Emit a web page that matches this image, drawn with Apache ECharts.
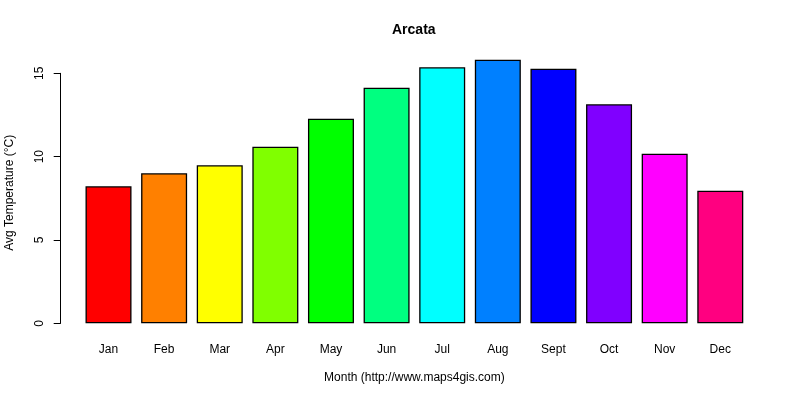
<!DOCTYPE html>
<html>
<head>
<meta charset="utf-8">
<script src="https://cdn.jsdelivr.net/npm/echarts@6/dist/echarts.min.js"></script>
<style>
  html, body { margin: 0; padding: 0; background: #fff; }
  #Charts { width: 800px; height: 400px; }
</style>
</head>
<body>
<div id="Charts"></div>
<script>
var months = ['Jan', 'Feb', 'Mar', 'Apr', 'May', 'Jun', 'Jul', 'Aug', 'Sept', 'Oct', 'Nov', 'Dec'];
var avgTemp = [8.22, 9.0, 9.48, 10.6, 12.28, 14.14, 15.36, 15.82, 15.28, 13.14, 10.18, 7.96];
var barColors = ['#FF0000', '#FF8000', '#FFFF00', '#80FF00', '#00FF00', '#00FF80',
                 '#00FFFF', '#0080FF', '#0000FF', '#8000FF', '#FF00FF', '#FF0080'];
var yTicks = [0, 5, 10, 15];

makeCharts();

function makeCharts(){
	var font = 'Liberation Sans, Arial, sans-serif';
	var barData = [];
	for (var i = 0; i < avgTemp.length; i++) {
		barData[i] = {
			value: avgTemp[i],
			itemStyle: { color: barColors[i] }
		};
	}
	var option = {
		animation: false,
		title: {
			text: 'Arcata',
			left: 392,
			top: 23,
			padding: 0,
			textStyle: { fontFamily: font, fontSize: 14, fontWeight: 'bold', color: '#000' }
		},
		grid: {
			left: 80.7,
			width: 667.4,
			top: 73.3,
			height: 250,
			containLabel: false,
			outerBoundsMode: 'none'
		},
		xAxis: {
			type: 'category',
			data: months,
			axisLine: { show: false },
			axisTick: { show: false },
			axisLabel: { margin: 20, fontFamily: font, fontSize: 12, color: '#000' },
			name: 'Month (http://www.maps4gis.com)',
			nameLocation: 'middle',
			nameGap: 48,
			nameTextStyle: { fontFamily: font, fontSize: 12, color: '#000' }
		},
		yAxis: {
			type: 'value',
			min: yTicks[0],
			max: yTicks[yTicks.length - 1],
			interval: 5,
			offset: 20,
			splitLine: { show: false },
			axisLine: { show: true, lineStyle: { color: '#000', width: 1 } },
			axisTick: { show: true, length: 7, lineStyle: { color: '#000' } },
			axisLabel: { rotate: 90, margin: 15, fontFamily: font, fontSize: 12, color: '#000' },
			name: 'Avg Temperature (°C)',
			nameLocation: 'middle',
			nameRotate: 90,
			nameGap: 45,
			nameTextStyle: { fontFamily: font, fontSize: 12, color: '#000', padding: [0, 0, 0, 11] }
		},
		series: [{
			type: 'bar',
			data: barData,
			barWidth: 46,
			clip: false,
			itemStyle: { borderColor: '#000', borderWidth: 1.3 }
		}]
	};
	var myChart = echarts.init(document.getElementById('Charts'));
	myChart.setOption(option);
}
</script>
</body>
</html>
